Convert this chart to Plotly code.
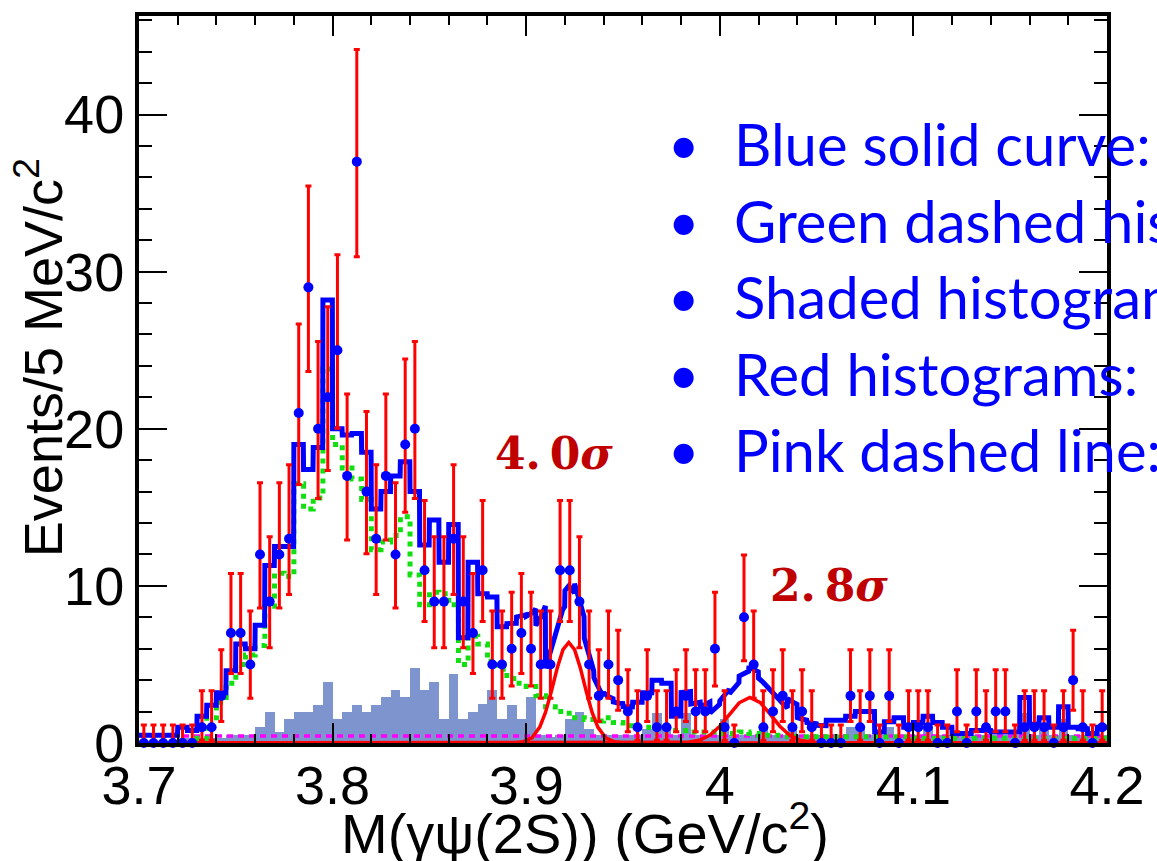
import numpy as np
import plotly.graph_objects as go

# ---------------- data ----------------
x_min, x_max = 3.70, 4.20
bin_width = 0.005

# observed events per 5 MeV bin (100 bins, 3.700 - 4.200)
counts = [0, 0, 0, 0, 0, 0, 1, 1, 3, 7,
          7, 5, 12, 9, 12, 13, 21, 29, 20, 22,
          25, 17, 37, 16, 13, 17, 12, 19, 20, 11,
          9, 9, 13, 9, 7, 11, 5, 5, 6, 7,
          6, 5, 5, 11, 11, 9, 5, 3, 5, 4,
          2, 1, 3, 1, 1, 2, 3, 2, 2, 6,
          1, 0, 8, 5, 1, 2, 3, 1, 2, 1,
          0, 0, 0, 3, 1, 3, 0, 3, 0, 1,
          1, 1, 0, 0, 2, 0, 2, 1, 2, 2,
          0, 1, 1, 1, 0, 1, 4, 1, 0, 1]

# blue total fit, histogram part (without the two smooth signal shapes)
fit_hist = [0.5, 0.5, 0.5, 0.5, 1.0, 0.8, 1.7, 2.4, 3.2, 4.6,
            6.3, 6.0, 7.5, 11.3, 12.5, 12.5, 19.0, 17.4, 18.8, 28.2,
            20.0, 19.6, 19.7, 18.5, 14.9, 16.0, 17.0, 17.9, 16.0, 12.6,
            14.2, 11.5, 13.9, 6.7, 11.5, 9.5, 9.3, 7.4, 7.6, 8.0,
            7.9, 6.8, 2.8, 2.6, 3.6, 4.2, 2.9, 2.5, 2.7, 2.5,
            2.3, 2.6, 3.2, 4.0, 3.8, 1.7, 3.2, 2.4, 2.1, 1.4,
            1.6, 1.3, 1.7, 1.9, 1.5, 1.6, 1.6, 2.2, 1.35, 1.2,
            1.1, 1.45, 1.45, 1.7, 2.0, 2.0, 0.7, 1.35, 1.6, 1.0,
            1.3, 1.7, 1.3, 1.0, 0.6, 0.6, 0.8, 0.8, 0.7, 0.7,
            0.7, 2.9, 1.2, 1.6, 1.0, 2.3, 1.0, 0.9, 0.6, 1.0]

# green dashed histogram
green_hist = [0, 0, 0, 0, 0, 0, 0.3, 1.6, 2.6, 3.8,
              5.0, 5.6, 6.2, 8.7, 10.8, 10.6, 16.5, 14.9, 15.6, 23.8,
              19.0, 17.5, 16.8, 15.5, 12.3, 12.8, 13.2, 14.4, 10.7, 8.8,
              9.6, 9.5, 8.8, 5.0, 6.8, 6.3, 5.2, 4.7, 4.1, 3.8,
              3.6, 3.0, 2.3, 2.0, 1.9, 1.6, 1.5, 1.4, 1.6, 1.3,
              1.1, 1.0, 1.0, 1.0, 0.9, 0.8, 0.8, 0.7, 0.7, 0.7,
              0.6, 0.6, 0.7, 0.6, 0.5, 0.5, 0.5, 0.4, 0.4, 0.4,
              0.4, 0.4, 0.4, 0.4, 0.4, 0.4, 0.4, 0.4, 0.4, 0.4,
              0.3, 0.3, 0.3, 0.3, 0.3, 0.3, 0.3, 0.3, 0.3, 0.3,
              0.3, 0.3, 0.3, 0.3, 0.3, 0.3, 0.3, 0.3, 0.3, 0.3]

# shaded histogram
shaded_hist = [0, 0, 0, 0, 0.3, 0.3, 0.3, 0.3, 0.3, 0.5,
               0.5, 0.5, 1.0, 2.0, 0.7, 1.5, 2.0, 2.0, 2.4, 3.9,
               1.5, 2.0, 2.4, 2.0, 2.4, 2.9, 3.4, 2.9, 4.8, 3.4,
               3.9, 1.5, 4.4, 1.5, 2.0, 2.5, 3.4, 1.5, 2.4, 1.5,
               2.9, 0.5, 0.4, 0.5, 1.5, 2.0, 0.9, 0.5, 0.5, 0.5,
               0.5, 0.5, 0.9, 1.9, 1.0, 0.5, 1.9, 0.5, 0.5, 0.5,
               1.5, 0.5, 0.5, 0.5, 1.0, 0.5, 0.5, 1.0, 0.5, 0.5,
               0.5, 0.5, 0.5, 1.0, 1.0, 0.5, 0.5, 1.0, 0.5, 0.5,
               0.5, 1.0, 0.5, 0.5, 0.5, 0.5, 0.5, 0.5, 0.5, 0.5,
               0.5, 1.9, 0.5, 0.9, 0.5, 1.5, 0.5, 0.5, 0.5, 0.5]

# pink dashed flat line level
flat_level = 0.45

# red signal shapes (sampled points)
sig1_x = [3.700, 3.893, 3.898, 3.903, 3.907, 3.910, 3.913, 3.916, 3.919, 3.922,
          3.925, 3.928, 3.931, 3.934, 3.937, 3.941, 3.946, 3.951, 4.200]
sig1_y = [0, 0, 0.06, 0.33, 1.01, 1.96, 3.29, 4.76, 5.94, 6.40,
          5.94, 4.76, 3.29, 1.96, 1.01, 0.33, 0.06, 0, 0]
sig2_x = [3.700, 3.978, 3.983, 3.990, 3.995, 4.000, 4.005, 4.010, 4.0155,
          4.021, 4.026, 4.031, 4.036, 4.041, 4.048, 4.053, 4.200]
sig2_y = [0, 0, 0.04, 0.20, 0.51, 1.07, 1.84, 2.56, 2.90,
          2.56, 1.84, 1.07, 0.51, 0.20, 0.04, 0, 0]

x_tickvals = [3.7, 3.8, 3.9, 4.0, 4.1, 4.2]
x_ticktext = ["3.7", "3.8", "3.9", "4", "4.1", "4.2"]
y_tickvals = [0, 10, 20, 30, 40]
y_ticktext = ["0", "10", "20", "30", "40"]

bullet_lines = ["Blue solid curve:", "Green dashed histogram:", "Shaded histogram:",
                "Red histograms:", "Pink dashed line:"]
sig_labels = ["4.0", "2.8"]

# ---------------- derived ----------------
nb = len(counts)
edges = x_min + bin_width * np.arange(nb + 1)
centers = edges[:-1] + bin_width / 2
c = np.array(counts, dtype=float)
cs = np.maximum(c, 1.0)
err_hi = np.where(c > 0, np.sqrt(c + 0.75) + 1.0, 1.15)
err_lo = np.where(c > 0, c - c * (1 - 1 / (9 * cs) - 1 / (3 * np.sqrt(cs))) ** 3, 0.0)


def step(vals):
    return list(edges), list(vals) + [vals[-1]]


# blue total: histogram part + smooth signals on a fine grid
xf = np.linspace(x_min, x_max, 4001)
idx = np.clip(((xf - x_min) / bin_width + 1e-9).astype(int), 0, nb - 1)
blue_y = (np.array(fit_hist)[idx]
          + np.interp(xf, sig1_x, sig1_y)
          + np.interp(xf, sig2_x, sig2_y))

fig = go.Figure()

fig.add_trace(go.Bar(x=centers, y=shaded_hist, width=bin_width,
                     marker=dict(color="#7d94cf", line=dict(width=0)),
                     showlegend=False, hoverinfo="skip"))

fig.add_trace(go.Scatter(x=[x_min, x_max], y=[flat_level, flat_level], mode="lines",
                         line=dict(color="#ff00ff", width=3.5, dash="6px,5px"),
                         showlegend=False, hoverinfo="skip"))

gx, gy = step(green_hist)
fig.add_trace(go.Scatter(x=gx, y=gy, mode="lines", line_shape="hv",
                         line=dict(color="#10e010", width=5, dash="5px,5px"),
                         showlegend=False, hoverinfo="skip"))

for sx, sy in ((sig1_x, sig1_y), (sig2_x, sig2_y)):
    fig.add_trace(go.Scatter(x=sx, y=sy, mode="lines",
                             line=dict(color="#ff0000", width=3.5),
                             cliponaxis=False, showlegend=False, hoverinfo="skip"))

fig.add_trace(go.Scatter(x=xf, y=blue_y, mode="lines",
                         line=dict(color="#0000ff", width=5),
                         showlegend=False, hoverinfo="skip"))

fig.add_trace(go.Scatter(x=centers, y=counts, mode="markers",
                         marker=dict(color="#0000ff", size=10, line=dict(width=0)),
                         error_y=dict(type="data", symmetric=False, array=err_hi,
                                      arrayminus=err_lo, color="#ff0000",
                                      thickness=3, width=3),
                         cliponaxis=False, showlegend=False))

# plot area in pixels
L, R, T, B = 139, 1117, 12, 743
W, H = 1157, 861


def px(xp):
    return (xp - L) / (R - L)


def py(yp):
    return (B - yp) / (B - T)


annotations = []
# bullet text
line_mids = [140, 218, 294, 371, 448]
for txt, ym in zip(bullet_lines, line_mids):
    annotations.append(dict(x=px(689), y=py(ym), xref="paper", yref="paper",
                            text="•", showarrow=False, xanchor="center", yanchor="middle",
                            font=dict(family="Lato", size=54, color="#0000ff")))
    annotations.append(dict(x=px(738), y=py(ym), xref="paper", yref="paper",
                            text=txt, showarrow=False, xanchor="left", yanchor="middle",
                            font=dict(family="Lato", size=58, color="#0000ff")))

for lab, (xc, yc) in zip(sig_labels, ((558, 452), (836, 585))):
    annotations.append(dict(x=px(xc), y=py(yc), xref="paper", yref="paper",
                            text="<b>" + lab.replace(".", ".\u2009") + "<i>σ</i></b>",
                            showarrow=False, xanchor="center", yanchor="middle",
                            font=dict(family="DejaVu Serif", size=44, color="#c00000")))

# axis titles
annotations.append(dict(x=px(590), y=py(830), xref="paper", yref="paper",
                        text="M(γψ(2S)) (GeV/c<sup>2</sup>)", showarrow=False,
                        xanchor="center", yanchor="middle",
                        font=dict(family="Liberation Sans", size=56, color="black")))
annotations.append(dict(x=px(38), y=py(356), xref="paper", yref="paper",
                        text="Events/5 MeV/c<sup>2</sup>", showarrow=False, textangle=-90,
                        xanchor="center", yanchor="middle",
                        font=dict(family="Liberation Sans", size=54, color="black")))

fig.update_layout(
    width=W, height=H,
    margin=dict(l=L, r=W - R, t=T, b=H - B, pad=0),
    paper_bgcolor="white", plot_bgcolor="white",
    bargap=0, showlegend=False,
    annotations=annotations,
    font=dict(family="Liberation Sans", color="black"),
)
fig.update_xaxes(range=[x_min, x_max], showgrid=False, zeroline=False,
                 showline=True, linecolor="black", linewidth=4, mirror="allticks",
                 ticks="inside", ticklen=20, tickwidth=2, tickcolor="black",
                 tickvals=x_tickvals, ticktext=x_ticktext, ticklabelstandoff=-8,
                 tickfont=dict(family="Liberation Sans", size=54, color="black"),
                 minor=dict(dtick=0.02, tick0=3.7, ticks="inside", ticklen=9,
                            tickwidth=2, tickcolor="black", showgrid=False))
fig.update_yaxes(range=[0, 46.27], showgrid=False, zeroline=False,
                 showline=True, linecolor="black", linewidth=4, mirror="allticks",
                 ticks="inside", ticklen=28, tickwidth=2, tickcolor="black",
                 tickvals=y_tickvals, ticktext=y_ticktext,
                 tickfont=dict(family="Liberation Sans", size=54, color="black"),
                 minor=dict(dtick=2, tick0=0, ticks="inside", ticklen=13,
                            tickwidth=2, tickcolor="black", showgrid=False))

fig.write_html("out.html", include_plotlyjs=True, config={"displayModeBar": False})
